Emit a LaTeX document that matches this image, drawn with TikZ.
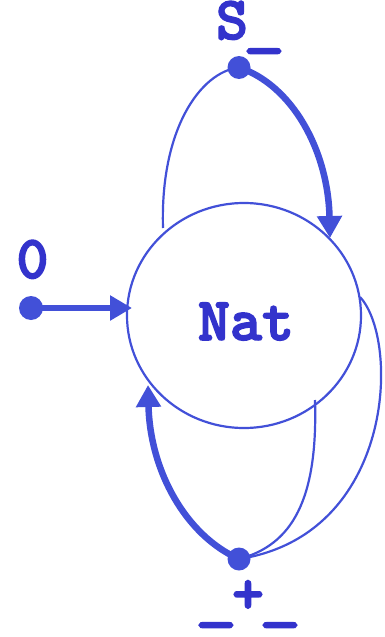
\documentclass[tikz,border=0pt]{standalone}
\usepackage{fontspec}
\usepackage{graphicx}
\newfontfamily\monob{lmmonolt10-bold}[Extension=.otf,FakeBold=2.5]
\usetikzlibrary{arrows.meta,shapes.geometric}
\definecolor{lc}{RGB}{66,80,216}
\definecolor{tc}{RGB}{51,51,204}
\newcommand{\lowus}{\makebox[0.525em]{\raisebox{-5pt}{\scalebox{1.3}[1]{\_}}}}
\tikzset{
  thinline/.style={draw=lc,line width=2.2pt},
  thickline/.style={draw=lc,line width=6.5pt,-{Triangle[length=22pt,width=24pt]}},
  dot/.style={circle,fill=lc,inner sep=0pt,minimum size=23pt},
  lbl/.style={text=tc,font=\monob\fontsize{61}{66}\selectfont,inner sep=0pt,anchor=base,text height=30pt,text depth=16pt}
}
\begin{document}
\begin{tikzpicture}[x=1pt,y=-1pt]
\useasboundingbox (0,0) rectangle (384,637);
\node[ellipse,draw=lc,line width=2.2pt,minimum width=234pt,minimum height=225pt,inner sep=0pt] (nat) at (244,315.5) {};
\node[lbl] (natl) at (246,340) {Nat};
\node[dot] (sdot) at (239,67.5) {};
\node[dot,minimum size=24pt] (zdot) at (31,308) {};
\node[dot] (pdot) at (239,559) {};
\node[lbl] (slbl) at (248,39) {S\lowus};
\node[lbl] (zlbl) at (32.5,278) {0};
\node[lbl] (plbl) at (248,613) {\lowus+\lowus};
\coordinate (sin) at (163,228);
\coordinate (sout) at (330,238);
\coordinate (pout) at (148,385);
\coordinate (pin1) at (315,400);
\coordinate (pin2) at (360,297);
\coordinate (zin) at (132,308);
% S_
\draw[thinline] (sin) .. controls (160,130) and (200,72) .. (sdot.center);
\draw[thickline] (sdot.center) .. controls (292,85) and (328,150) .. (sout);
% 0
\draw[thickline] (zdot.center) -- (zin);
% _+_
\draw[thickline] (pdot.center) .. controls (185,535) and (150,470) .. (pout);
\draw[thinline] (pin1) .. controls (318,500) and (292,545) .. (pdot.center);
\draw[thinline] (pin2) .. controls (400,340) and (395,535) .. (pdot.center);
\end{tikzpicture}
\end{document}
